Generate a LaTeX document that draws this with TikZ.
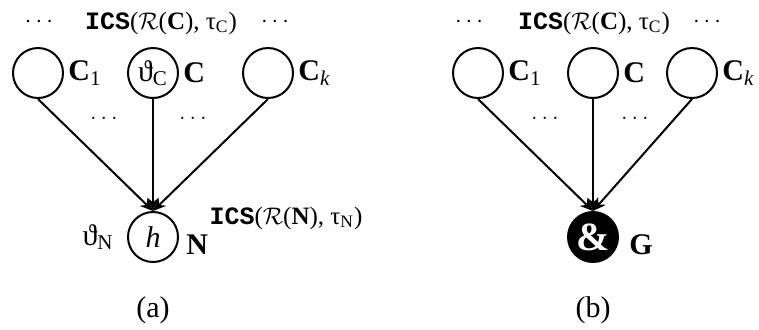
\documentclass[tikz,border=0pt]{standalone}
\usepackage{fontspec}
\setmainfont{Liberation Serif}
\setmonofont{Liberation Mono}
\usetikzlibrary{arrows.meta,positioning}
\tikzset{
  vnode/.style={draw,circle,line width=1pt,minimum size=25pt,inner sep=0pt,font=\fontsize{15}{17}\selectfont},
  gate/.style={vnode,fill=black,text=white,font=\fontsize{20}{22}\selectfont\bfseries},
  arr/.style={-{Stealth[length=6.5pt,width=5.5pt]},line width=1pt},
  lab/.style={font=\fontsize{15}{17}\selectfont,inner sep=1pt},
  ics/.style={font=\fontsize{12.5}{15}\selectfont,inner sep=0pt},
}
\newcommand{\icsof}[2]{\texttt{\textbf{ICS}}($\mathcal{R}$(\textbf{#1}), τ\textsubscript{#2})}
\begin{document}
\begin{tikzpicture}[x=0.5pt,y=-0.5pt]
\useasboundingbox (0,0) rectangle (759,329);
% (a)
\node[vnode] (c1) at (38,73) {};
\node[vnode] (c) at (153,73) {ϑ\textsubscript{C}};
\node[vnode] (ck) at (268,73) {};
\node[vnode] (h) at (153,237) {\textit{h}};
\node[lab,right=1pt of c1] {\textbf{C}\textsubscript{1}};
\node[lab,right=1pt of c] {\textbf{C}};
\node[lab,right=1pt of ck] {\textbf{C}\textsubscript{\textit{k}}};
\node[lab,left=5.5pt of h] {ϑ\textsubscript{N}};
\node[lab,right=2.5pt of h,yshift=-4pt] {\textbf{N}};
\node[ics] (icsc) at (161,23) {\icsof{C}{C}};
\node[ics] (icsn) at (286,218) {\icsof{N}{N}};
\node[ics] at (39,22) {$\cdots$};
\node[ics] at (275,22) {$\cdots$};
\node[ics] at (104,118) {$\ldots$};
\node[ics] at (193,118) {$\ldots$};
\foreach \n in {c1,c,ck} \draw[arr] (\n.south) -- (h.north);
\node[lab] at (153,310) {(a)};
% (b)
\node[vnode] (d1) at (478,73) {};
\node[vnode] (d) at (593,73) {};
\node[vnode] (dk) at (692,73) {};
\node[gate] (g) at (593,237) {\&};
\node[lab,right=1pt of d1] {\textbf{C}\textsubscript{1}};
\node[lab,right=1pt of d] {\textbf{C}};
\node[lab,right=1pt of dk] {\textbf{C}\textsubscript{\textit{k}}};
\node[lab,right=4pt of g,yshift=-4pt] {\textbf{G}};
\node[ics] at (594,23) {\icsof{C}{C}};
\node[ics] at (469,22) {$\cdots$};
\node[ics] at (707,22) {$\cdots$};
\node[ics] at (545,118) {$\ldots$};
\node[ics] at (635,118) {$\ldots$};
\foreach \n in {d1,d,dk} \draw[arr] (\n.south) -- (g.north);
\node[lab] at (593,310) {(b)};
\end{tikzpicture}
\end{document}
